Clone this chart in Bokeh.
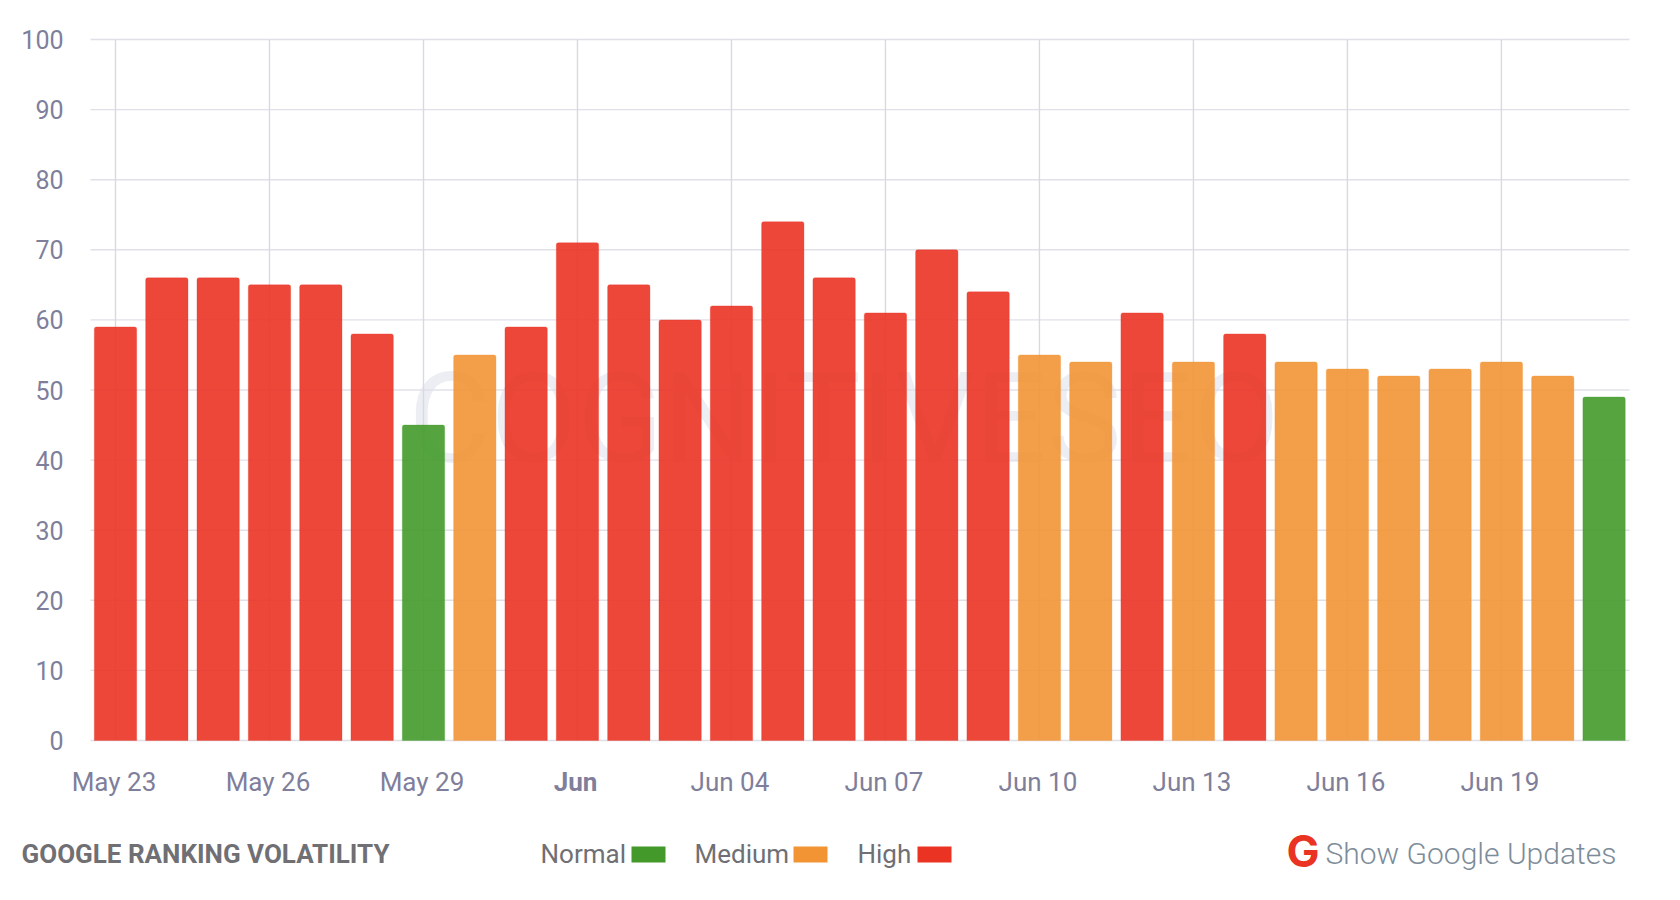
from bokeh.plotting import figure
from bokeh.models import ColumnDataSource, FixedTicker, Label, BoxAnnotation, Range1d
from bokeh.embed import file_html
from bokeh.resources import INLINE

# ---- data ----
dates = ["May 23","May 24","May 25","May 26","May 27","May 28","May 29","May 30","May 31","Jun",
         "Jun 02","Jun 03","Jun 04","Jun 05","Jun 06","Jun 07","Jun 08","Jun 09","Jun 10","Jun 11",
         "Jun 12","Jun 13","Jun 14","Jun 15","Jun 16","Jun 17","Jun 18","Jun 19","Jun 20","Jun 21"]
volatility = [59,66,66,65,65,58,45,55,59,71,65,60,62,74,66,61,70,64,55,54,61,54,58,54,53,52,53,54,52,49]
levels = ["High","High","High","High","High","High","Normal","Medium","High","High",
          "High","High","High","High","High","High","High","High","Medium","Medium",
          "High","Medium","High","Medium","Medium","Medium","Medium","Medium","Medium","Normal"]
level_colors = {"Normal": "#439a2a", "Medium": "#f29434", "High": "#ea3323"}
y_ticks = list(range(0, 101, 10))
x_tick_every = 3

FONT = "Roboto"
TICK_COLOR = "#7f7f9c"
GRID_H = "#e0e0e9"
GRID_V = "#d9d9e2"

# the frame fills the whole canvas so nothing in the margins is clipped
W, H = 1664, 884
PX_PER_DAY, PX_PER_UNIT = 51.33, 7.01
ZERO_X_PX, ZERO_Y_PX = 115, 740
GRID_LEFT_PX, GRID_RIGHT_PX = 90, 1629
LABEL_SHIFT_DAYS = -1.5 / PX_PER_DAY


def to_x(px):
    return (px - ZERO_X_PX) / PX_PER_DAY


indices = list(range(len(dates)))
x_ticks = indices[::x_tick_every]
label_ticks = [t + LABEL_SHIFT_DAYS for t in x_ticks]
overrides = {t + LABEL_SHIFT_DAYS: dates[t] for t in x_ticks}
overrides[dates.index("Jun") + LABEL_SHIFT_DAYS] = " "

p = figure(width=W, height=H, output_backend="svg", toolbar_location=None,
           x_range=Range1d(to_x(0), to_x(W)),
           y_range=Range1d((ZERO_Y_PX - H) / PX_PER_UNIT, ZERO_Y_PX / PX_PER_UNIT),
           min_border_left=0, min_border_right=0, min_border_top=0, min_border_bottom=0,
           frame_width=W, frame_height=H)
p.outline_line_color = None
p.background_fill_color = "white"
p.grid.visible = False

p.xaxis.ticker = FixedTicker(ticks=label_ticks)
p.xaxis.major_label_overrides = overrides
p.xaxis.fixed_location = 0
p.yaxis.ticker = FixedTicker(ticks=y_ticks)
p.yaxis.fixed_location = to_x(GRID_LEFT_PX)
for ax in (p.xaxis[0], p.yaxis[0]):
    ax.axis_line_color = None
    ax.major_tick_line_color = None
    ax.minor_tick_line_color = None
    ax.major_label_text_font = FONT
    ax.major_label_text_color = TICK_COLOR
p.xaxis[0].major_label_text_font_size = "26px"
p.yaxis[0].major_label_text_font_size = "25px"
p.xaxis.major_label_standoff = 20
p.yaxis.major_label_standoff = 21


def lab(x, y, text, size, color, style="normal", font=FONT, align="left", level="annotation"):
    """x, y are page pixels (y down); Label screen units count from the frame's lower left."""
    p.add_layout(Label(x=x, y=H - y, x_units="screen", y_units="screen",
                       text=text, text_font=font, text_font_style=style, text_font_size=size,
                       text_color=color, text_baseline="middle", text_align=align, level=level))


# watermark beneath grid and bars
lab(408, 418, "COGNITIVESEO", "126px", "#eceef4", level="underlay")

# grid, limited to the plot area
p.segment(x0=[to_x(GRID_LEFT_PX)] * len(y_ticks), x1=[to_x(GRID_RIGHT_PX)] * len(y_ticks),
          y0=y_ticks, y1=y_ticks, line_color=GRID_H, line_width=1.4)
p.segment(x0=x_ticks, x1=x_ticks, y0=[0] * len(x_ticks), y1=[y_ticks[-1]] * len(x_ticks),
          line_color=GRID_V, line_width=1.4)

src = ColumnDataSource(dict(x=indices, top=volatility,
                            color=[level_colors[l] for l in levels]))
p.vbar(x="x", top="top", bottom=0, width=0.825, source=src, fill_color="color",
       fill_alpha=0.9, line_color="color", line_alpha=0.3, line_width=1,
       border_radius={"top_left": 2, "top_right": 2, "bottom_left": 0, "bottom_right": 0})

# bold month label
jun = dates.index("Jun")
p.add_layout(Label(x=jun, y=H - 781, x_units="data", y_units="screen", x_offset=-2, text=dates[jun],
                   text_font=FONT, text_font_style="bold", text_font_size="26px",
                   text_color=TICK_COLOR, text_align="center", text_baseline="middle"))

# footer
lab(21, 853, "GOOGLE RANKING VOLATILITY", "26px", "#6f6f74", "bold")
legend_pos = [("Normal", 540, 631), ("Medium", 694, 793), ("High", 857, 917)]
for name, tx, sx in legend_pos:
    lab(tx, 853, name, "26px", "#6f6f74")
    p.add_layout(BoxAnnotation(left=sx, right=sx + 34, top=H - 846, bottom=H - 862,
                               left_units="screen", right_units="screen", top_units="screen",
                               bottom_units="screen", fill_color=level_colors[name], fill_alpha=1,
                               line_color=None))
lab(1286, 850, "G", "44px", "#ea3323", "bold", font="Inter")
lab(1325, 853, "Show Google Updates", "30px", "#7d8c99", font="Roboto Light")

open("out.html", "w").write(file_html(p, INLINE))
